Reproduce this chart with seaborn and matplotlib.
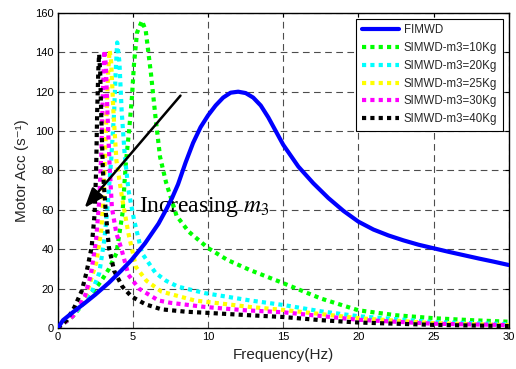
import pandas as pd
import matplotlib
matplotlib.use("Agg")
import matplotlib.pyplot as plt
import seaborn as sns

# data
series_names = ['FIMWD', 'SIMWD-m3=10Kg', 'SIMWD-m3=20Kg',
                'SIMWD-m3=25Kg', 'SIMWD-m3=30Kg', 'SIMWD-m3=40Kg']
series_colors = ['#0000ff', '#00ff00', '#00ffff', '#ffff00', '#ff00ff', '#000000']

fim_f = [0, 0.35, 1, 1.8, 2.5, 3.4, 4.2, 4.9, 5.8, 6.7, 7.2, 7.6, 8.0, 8.5, 9.0, 9.5,
         10.0, 10.5, 11.0, 11.5, 12.0, 12.5, 13.0, 13.5, 14.0, 14.5, 15, 16, 17, 18,
         19, 20, 21, 22, 23, 24, 25, 26, 27, 28, 29, 30]
fim_a = [0, 4, 8, 12.7, 17, 23, 29, 34.5, 43, 53, 60, 66, 73, 84, 94, 102,
         108, 113, 117, 119.5, 120, 119.3, 117, 113, 107, 100, 93, 82, 73.5, 66,
         59.5, 54, 50, 47, 44.5, 42.3, 40.5, 38.7, 37, 35.3, 33.7, 32]

m10_f = [0, 1, 2.3, 2.9, 3.4, 3.9, 4.3, 4.53, 4.74, 4.93, 5.07, 5.27, 5.6, 5.85, 6.2,
         6.5, 6.8, 7.2, 7.9, 8.7, 10, 11.3, 12.8, 14.8, 17.5, 20, 22.5, 25, 27.5, 30]
m10_a = [0, 6, 18, 24, 30, 38, 58, 84, 100, 117, 134, 150, 156, 151, 129,
         107, 87, 74, 57, 49, 40.6, 34.5, 29.4, 23.4, 15, 9, 6.5, 5, 4, 3.2]

m20_f = [0, 1, 2.3, 2.76, 3.1, 3.3, 3.55, 3.75, 3.85, 3.95, 4.1, 4.25, 4.45, 4.7, 5.07,
         5.6, 6.5, 7.2, 8, 9.8, 12.8, 15, 17.5, 20, 25, 30]
m20_a = [0, 6, 19, 28, 45, 61, 85, 110, 130, 145, 135, 110, 88, 70, 55,
         38, 28, 24, 21, 17.7, 14, 11.7, 8.5, 6, 3, 2]

m25_f = [0, 1, 1.9, 2.55, 2.9, 3.05, 3.2, 3.35, 3.45, 3.55, 3.7, 3.9, 4.3, 4.7, 5.2,
         5.9, 6.9, 9.1, 12.8, 15, 20, 25, 30]
m25_a = [0, 6, 17, 33, 50, 70, 100, 130, 141, 135, 110, 85, 65, 48, 31,
         24, 18.5, 14, 10.7, 9.2, 5, 2.5, 1.5]

m30_f = [0, 1, 1.8, 2.2, 2.55, 2.76, 2.9, 3.0, 3.1, 3.2, 3.3, 3.45, 3.6, 3.9, 4.2,
         4.7, 5.4, 6.7, 7.5, 9.8, 12.5, 15, 20, 25, 30]
m30_a = [0, 6, 16, 27, 45, 65, 90, 120, 141, 133, 110, 82, 61, 48, 41,
         27, 20, 14, 12.8, 10.7, 9, 8, 4.2, 2.2, 1.5]

m40_f = [0, 0.6, 1.1, 1.6, 1.9, 2.25, 2.45, 2.55, 2.62, 2.7, 2.75, 2.82, 2.9, 3.0, 3.2,
         3.4, 3.75, 4.3, 4.9, 5.85, 6.9, 8.5, 10.2, 12.5, 15, 17.5, 20, 25, 30]
m40_a = [0, 4, 10.5, 19, 28, 41, 58, 80, 110, 132, 139, 130, 105, 80, 58,
         41, 29, 21, 16, 12, 9.5, 8.3, 7.6, 6.6, 5.6, 4, 2.8, 1.6, 1]

freqs = [fim_f, m10_f, m20_f, m25_f, m30_f, m40_f]
accs = [fim_a, m10_a, m20_a, m25_a, m30_a, m40_a]

sns.set_theme(style="white")
plt.rcParams['font.family'] = ['Liberation Sans', 'DejaVu Sans']
plt.rcParams['mathtext.fontset'] = 'stix'

fig, ax = plt.subplots(figsize=(5.16, 3.69), dpi=100)
fig.subplots_adjust(left=0.112, right=0.986, bottom=0.111, top=0.965)

for name, color, f, a in zip(series_names, series_colors, freqs, accs):
    df = pd.DataFrame({'Frequency': f, 'Acc': a})
    if name == 'FIMWD':
        sns.lineplot(data=df, x='Frequency', y='Acc', ax=ax, color=color,
                     linewidth=3, label=name, zorder=4)
    else:
        sns.lineplot(data=df, x='Frequency', y='Acc', ax=ax, color=color,
                     linewidth=3, linestyle=(0, (1, 1)), label=name, zorder=3)

ax.set_xlim(0, 30)
ax.set_ylim(0, 160)
ax.set_xticks(range(0, 31, 5))
ax.set_yticks(range(0, 161, 20))
ax.grid(True, color='0.3', linewidth=0.8, linestyle=(0, (6, 4)))
ax.tick_params(direction='in', top=True, right=True, length=3, width=0.8,
               labelsize=8, pad=3, colors='black')
for s in ax.spines.values():
    s.set_color('black')
    s.set_linewidth(1)

ax.set_xlabel('Frequency(Hz)', fontsize=11)
ax.set_ylabel('Motor Acc (s⁻¹)', fontsize=11)

ax.annotate('', xy=(1.78, 61), xytext=(8.16, 118),
            arrowprops=dict(arrowstyle='-|>,head_length=0.8,head_width=0.3',
                            color='black', lw=1.8, mutation_scale=15,
                            shrinkA=0, shrinkB=0))
ax.text(5.4, 59, 'Increasing $m_3$', family='Liberation Serif', fontsize=17,
        color='black', zorder=2)

leg = ax.legend(loc='upper right', fontsize=8.3, handlelength=3.2, handletextpad=0.45,
                fancybox=False, framealpha=1, edgecolor='black', borderpad=0.5,
                labelspacing=0.5, borderaxespad=0.5)
leg.get_frame().set_linewidth(0.8)

plt.savefig('out.png', dpi=100)
